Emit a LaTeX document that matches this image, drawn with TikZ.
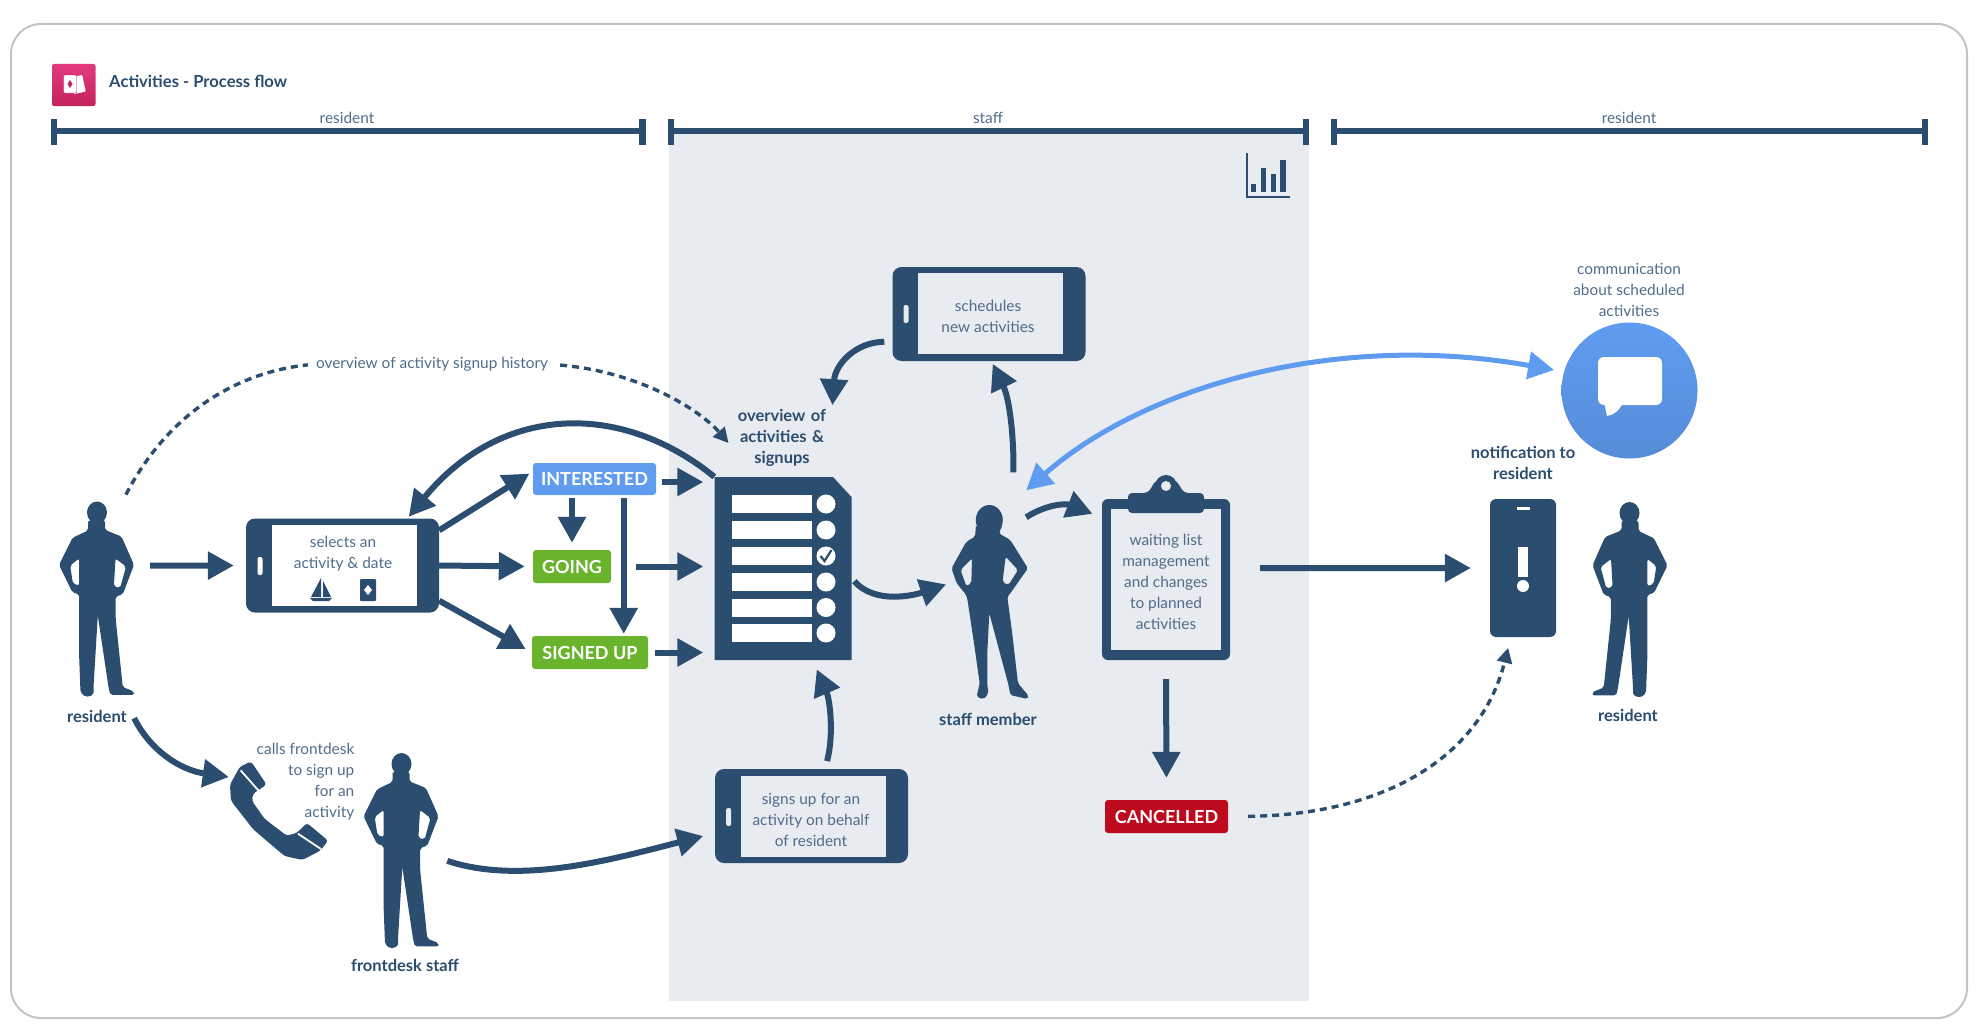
\documentclass[tikz,border=0pt]{standalone}
\usepackage{fontspec}
\setmainfont{Lato}
\usetikzlibrary{arrows.meta}

\definecolor{navy}{HTML}{2B4D6F}
\definecolor{softtext}{HTML}{4F6C8C}
\definecolor{panelgrey}{HTML}{E8EBEF}
\definecolor{skyblue}{HTML}{5F9CF0}
\definecolor{leafgreen}{HTML}{6AB42D}
\definecolor{alertred}{HTML}{BE0A1E}
\definecolor{pinktop}{HTML}{E23A7E}
\definecolor{pinkbottom}{HTML}{C3235E}

\tikzset{
  plain/.style={text=softtext, font=\fontsize{15.4}{21}\selectfont, align=center, inner sep=0pt},
  strong/.style={text=navy, font=\fontsize{16.5}{21}\selectfont\bfseries, align=center, inner sep=0pt},
  status/.style={text=white, font=\fontsize{18}{20}\selectfont\bfseries, rounded corners=3pt, inner sep=0pt, minimum height=33pt},
  phone/.style={fill=navy, rounded corners=9pt, inner sep=0pt, minimum width=193pt, minimum height=94pt},
  screen/.style={plain, minimum width=145pt, minimum height=81pt},
  knob/.style={fill=#1, rounded corners=2pt, inner sep=0pt, minimum width=5pt, minimum height=18pt},
  figbox/.style={inner sep=0pt, minimum width=75pt, minimum height=195pt},
  row/.style={fill=white, inner sep=0pt, minimum width=80.5pt, minimum height=18pt},
  dot/.style={circle, fill=white, inner sep=0pt, minimum size=19pt},
  flow/.style={draw=navy, line width=6pt, -{Triangle[length=26pt,width=27pt]}},
  skyflow/.style={draw=skyblue, line width=5pt, {Triangle[length=26pt,width=27pt]}-{Triangle[length=26pt,width=27pt]}},
  hint/.style={draw=navy, line width=3.4pt, dash pattern=on 7pt off 5pt},
  bracket/.style={draw=navy, line width=6.5pt},
  man/.pic={
    \fill[navy, even odd rule, rounded corners=2pt] (8.5,-78) -- (8.5,-68.6) -- (25,-62) -- (37.5,-33.6) -- (26.3,-4.3) -- (19.2,-2) -- (19.2,20.7) -- (26.3,88.6) -- (37.5,93) -- (37.5,96.4) -- (13.8,96.4) -- (12,88.6) -- (1.3,17) -- (-3,88.6) -- (-3,96.4) -- (-10.7,98.6) -- (-16,94) -- (-17.4,56.4) -- (-17.4,-4.3) -- (-24,-6) -- (-37.5,-33.6) -- (-24,-60.7) -- (-8.5,-68) -- (-8.5,-78) -- cycle
      (19,-40) -- (29.5,-32) -- (23.7,-10.7) -- (17.4,-12) -- cycle
      (-17.4,-40) -- (-26.3,-33) -- (-23.6,-15) -- (-17.4,-13) -- cycle;
    \fill[navy] (0.5,-86) ellipse (10 and 11);
  },
  woman/.pic={
    \fill[navy, even odd rule, rounded corners=2pt] (14,-77) -- (10.3,-68.7) -- (21.8,-62) -- (39.4,-33.7) -- (21.8,-8.7) -- (18.8,-5.3) -- (23.7,31.3) -- (29.5,81.3) -- (40.2,94) -- (39,97) -- (21.8,93) -- (20,83) -- (0.8,11.3) -- (-1.1,48) -- (-1.1,84.7) -- (0,91.3) -- (-5,97.3) -- (-11.9,94.7) -- (-8.8,81.3) -- (-14.5,41.3) -- (-21,-2) -- (-22.2,-7) -- (-31.8,-18.7) -- (-37,-33.7) -- (-22.2,-60.3) -- (-13.4,-65.3) -- (-12.6,-77) -- cycle
      (17.2,-45.3) -- (29.5,-32) -- (20,-17) -- (14,-20) -- cycle
      (-16.5,-43.7) -- (-28,-32) -- (-22.2,-16) -- (-17.2,-18.7) -- cycle;
    \fill[navy] (0.8,-82) ellipse (13.5 and 15);
  }
}

\begin{document}
\begin{tikzpicture}[x=1pt, y=-1pt]
\useasboundingbox (0,0) rectangle (1977,1033);

\draw[draw=black!23, line width=2pt, rounded corners=30pt] (11,24) rectangle (1967,1018);
\fill[panelgrey] (669,131) rectangle (1309,1001);

\node[inner sep=0pt, minimum width=43.5pt, minimum height=42pt, rounded corners=2pt, top color=pinktop, bottom color=pinkbottom] (appicon) at (73.75,85) {};
\fill[white, rotate around={12:(78,84)}, rounded corners=1pt] (72,76) rectangle (84,93);
\fill[white, draw=pinkbottom, rounded corners=1pt] (63.5,75) rectangle (76.5,93);
\fill[pinkbottom] (70,80) -- (72.5,84) -- (70,88) -- (67.5,84) -- cycle;
\node[strong, anchor=west, font=\fontsize{16.6}{20}\selectfont\bfseries] (title) at (109,81) {Activities - Process flow};

\draw[bracket] (54,119) -- (54,145) (54,131) -- (642.5,131) (642.5,119) -- (642.5,145);
\draw[bracket] (671,119) -- (671,145) (671,131) -- (1306,131) (1306,119) -- (1306,145);
\draw[bracket] (1334,119) -- (1334,145) (1334,131) -- (1925,131) (1925,119) -- (1925,145);
\node[plain] (laneone) at (347,118) {resident};
\node[plain] (lanetwo) at (988,118) {staff};
\node[plain] (lanethree) at (1629,118) {resident};

\draw[navy, line width=1.5pt] (1247,153) -- (1247,197) -- (1290,197);
\fill[navy] (1251,184) rectangle (1256,192);
\fill[navy] (1261,168) rectangle (1266,192);
\fill[navy] (1271,174) rectangle (1276,192);
\fill[navy] (1280,160) rectangle (1286,192);

\node[figbox] (resident) at (96.5,598.5) {};
\pic at (resident) {man};
\node[strong] (residentlabel) at (97,716) {resident};

\node[phone] (selects) at (342.5,565.5) {};
\node[screen, fill=white] (selectstext) at (344.5,565.5) {};
\node[plain] (selectslabel) at (343,553.5) {selects an\\activity \& date};
\node[knob=white] (selectsknob) at (260,566) {};
\fill[navy] (321,578) -- (321,597) -- (311,597) -- cycle;
\fill[navy] (323,581) -- (331,597) -- (323,597) -- cycle;
\fill[navy] (310,598) -- (332,598) -- (329,601) -- (313,601) -- cycle;
\node[fill=navy, rounded corners=1pt, inner sep=0pt, minimum width=16pt, minimum height=22pt] (cardicon) at (368,590) {};
\fill[white] (368,585) -- (372,590) -- (368,595) -- (364,590) -- cycle;

\node[status, fill=skyblue, minimum width=123pt, minimum height=32pt] (interested) at (594.5,479) {INTERESTED};
\node[status, fill=leafgreen, minimum width=78pt] (going) at (572,566.5) {GOING};
\node[status, fill=leafgreen, minimum width=116pt] (signed) at (590,652.5) {SIGNED UP};

\fill[navy] (714.5,477) -- (833,477) -- (851.5,497) -- (851.5,660) -- (714.5,660) -- cycle;
\node[inner sep=0pt, minimum width=137pt, minimum height=183pt] (list) at (783,568.5) {};
\node[row] (rowone) at (772.2,504) {};
\node[row] (rowtwo) at (772.2,530) {};
\node[row] (rowthree) at (772.2,556) {};
\node[row] (rowfour) at (772.2,582) {};
\node[row] (rowfive) at (772.2,607.5) {};
\node[row] (rowsix) at (772.2,633) {};
\node[dot] (dotone) at (826,504) {};
\node[dot] (dottwo) at (826,530) {};
\node[dot] (dotthree) at (826,556) {};
\node[dot] (dotfour) at (826,582) {};
\node[dot] (dotfive) at (826,607.5) {};
\node[dot] (dotsix) at (826,633) {};
\draw[navy, line width=2.2pt] (820.5,556) -- (824.5,561) -- (831.5,550);
\node[strong, text width=100pt] (listlabel) at (782,438) {overview of\\activities \&\\signups};

\node[phone] (schedules) at (989,314) {};
\node[screen, fill=panelgrey, text depth=0pt] (schedulestext) at (990.5,313.5) {};
\node[plain] (scheduleslabel) at (988,316) {schedules\\new activities};
\node[knob=panelgrey] (schedulesknob) at (906,314) {};

\node[phone] (signs) at (811.5,816) {};
\node[screen, fill=panelgrey] (signstext) at (813,816.5) {};
\node[plain] (signslabel) at (811,819.5) {signs up for an\\activity on behalf\\of resident};
\node[knob=panelgrey] (signsknob) at (728.6,817) {};

\node[figbox] (staff) at (988.5,602) {};
\pic at (staff) {woman};
\node[strong] (stafflabel) at (988,719) {staff member};

\node[fill=navy, rounded corners=6pt, inner sep=0pt, minimum width=128pt, minimum height=161pt] (clip) at (1166,579.5) {};
\node[plain, fill=panelgrey, inner sep=0pt, minimum width=110pt, minimum height=141pt] (cliptext) at (1166,579.5) {};
\node[plain] (cliplabel) at (1166,582) {waiting list\\management\\and changes\\to planned\\activities};
\fill[navy, rounded corners=4pt] (1128,513) -- (1128,493) -- (1148,493) -- (1156,480) -- (1176,480) -- (1184,493) -- (1204,493) -- (1204,513) -- cycle;
\fill[navy] (1166,486) circle (11);
\fill[panelgrey] (1166,486) circle (5);

\node[status, fill=alertred, minimum width=123pt] (cancelled) at (1166.5,816.5) {CANCELLED};

\node[fill=navy, rounded corners=6pt, inner sep=0pt, minimum width=66pt, minimum height=138pt] (alert) at (1523,568) {};
\fill[white] (1516.5,507) rectangle (1529.5,510);
\fill[white] (1518,546.5) rectangle (1528,577);
\fill[white] (1523,586) circle (6);
\node[strong] (alertlabel) at (1523,462.5) {notification to\\resident};

\node[figbox] (residenttwo) at (1630,599) {};
\pic[xscale=-1] at (residenttwo) {man};
\node[strong] (residenttwolabel) at (1628,715) {resident};

\node[circle, inner sep=0pt, minimum size=136pt, top color=skyblue, bottom color=skyblue!90!black] (comm) at (1629.5,390.5) {};
\fill[white, rounded corners=6pt] (1598,357) rectangle (1662,405);
\fill[white] (1604,402) -- (1607,416) .. controls (1614,415) and (1620,410) .. (1623,402) -- cycle;
\node[plain] (commlabel) at (1629,289.5) {communication\\about scheduled\\activities};

\node[inner sep=0pt, minimum width=99pt, minimum height=99pt] (handset) at (278.5,810.5) {};
\fill[navy, rounded corners=3pt] (239.8,766.8) -- (230,784.6) -- (230.9,800.7) -- (253.2,829.3) -- (284.5,856) -- (302.3,860) -- (320.2,850.7) -- (328.2,840.7) -- (306.8,822.9) -- (297,832.9) -- (286.7,835.7) -- (264.4,818.6) -- (251.9,800.7) -- (253.2,793.6) -- (266.6,784.6) -- (251,761.4) -- cycle;
\draw[white, line width=1.8pt] (240.7,770.4) -- (258.6,790.7);
\draw[white, line width=1.8pt] (297.9,833.6) -- (321,849);
\node[plain, align=right, anchor=east] (calllabel) at (354.5,782) {calls frontdesk\\to sign up\\for an\\activity};

\node[figbox] (frontdesk) at (401,850) {};
\pic at (frontdesk) {man};
\node[strong] (frontdesklabel) at (405,965) {frontdesk staff};

\node[plain] (history) at (432,364) {overview of activity signup history};

\draw[flow, shorten <=16pt, shorten >=12pt] (resident.41.3) -- (selects.west);
\draw[flow, shorten >=4pt] (selects.20) -- (interested.173);
\draw[flow, shorten >=8pt] (selects.east) -- (going.west);
\draw[flow, shorten >=7pt] (selects.-20) -- (signed.west);
\draw[flow, shorten <=3pt, shorten >=7pt] (interested.south -| going.north) -- (going.north);
\draw[flow, shorten <=3pt, shorten >=2pt] (interested.-29.3) -- (interested.-29.3 |- signed.north);
\draw[flow, shorten <=6pt, shorten >=11pt] ([yshift=-3pt]interested.east) -- ([yshift=-3pt]interested.east -| list.west);
\draw[flow, shorten <=25pt, shorten >=11pt] (going.east) -- (going.east -| list.west);
\draw[flow, shorten <=7pt, shorten >=11pt] (signed.east) -- (signed.east -| list.west);
\draw[flow, shorten >=2pt] (list.north west) .. controls (620,400) and (500,405) .. (selects.36);
\draw[flow, shorten <=4pt, shorten >=5pt] (list.-8.7) .. controls (875,605) and (915,595) .. (staff.153.7);
\draw[flow, shorten <=32pt, shorten >=3pt] (staff.76.7) .. controls (1014,440) and (1010,400) .. (schedules.-87);
\draw[flow, shorten <=8pt, shorten >=4pt] (schedules.196) .. controls (855,342) and (835,365) .. (listlabel.north east);
\draw[flow, shorten <=8pt, shorten >=10pt] (signs.74) .. controls (834,735) and (830,700) .. (list.-72);
\draw[flow, shorten >=10pt] (staff.66) .. controls (1045,505) and (1065,503) .. (clip.136);
\draw[flow, shorten <=30pt, shorten >=19pt] (clip.10) -- (alert.west);
\draw[flow, shorten <=19pt, shorten >=22pt] (clip.south) -- (cancelled.north);
\draw[flow] ([yshift=-22pt]resident.south east) .. controls (150,750) and (180,770) .. (handset.146);
\draw[flow, shorten <=9pt, shorten >=12pt] (frontdesk.-12) .. controls (520,885) and (610,860) .. (signs.190.5);
\draw[skyflow, shorten >=10pt] ([yshift=14pt]staff.north east) .. controls (1140,390) and (1330,330) .. (comm.164);
\draw[hint, shorten <=20pt, shorten >=11pt, -{Triangle[length=15pt,width=15pt]}] (cancelled.east) .. controls (1380,815) and (1480,760) .. (alert.-100);
\draw[hint, shorten <=7pt, shorten >=8pt] (resident.75.6) .. controls (170,410) and (240,372) .. (history.west);
\draw[hint, shorten <=12pt, shorten >=5pt, -{Triangle[length=15pt,width=15pt]}] (history.east) .. controls (640,372) and (700,410) .. (listlabel.190);

\end{tikzpicture}
\end{document}
